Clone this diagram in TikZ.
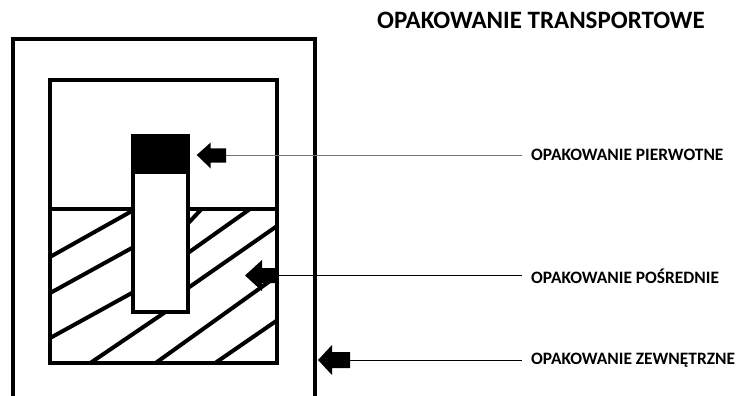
\documentclass[tikz,border=0pt]{standalone}
\usepackage{fontspec}
\setmainfont{Carlito}
\begin{document}
\begin{tikzpicture}[x=1pt,y=-1pt,
  boxline/.style={draw=black,line width=4pt,inner sep=0pt,outer sep=0pt,anchor=center},
  hatchline/.style={line width=4pt},
  blockarr/.style={fill=black},
  lead/.style={line width=0.9pt,draw=black},
  leadgray/.style={line width=1pt,draw=black!55},
  lbl/.style={font=\bfseries\fontsize{17.4}{19}\selectfont,anchor=base west,inner sep=0pt},
  ttl/.style={font=\bfseries\fontsize{25}{27}\selectfont,anchor=base west,inner sep=0pt}]
\useasboundingbox (0,0) rectangle (740,396);
\fill[white] (0,0) rectangle (740,396);
% outer box
\node[boxline,minimum width=302pt,minimum height=380pt] (outer) at (164,229.5) {};
% inner box
\node[boxline,fill=white,minimum width=227pt,minimum height=282.5pt] (inner) at (163.5,221.25) {};
% hatching in lower part
\begin{scope}
\clip (50,209) rectangle (277,362.5);
\draw[hatchline] (40,262.6) -- (140,206.5);
\draw[hatchline] (40,298.6) -- (140,243.5);
\draw[hatchline] (40,343.6) -- (140,288.5);
\draw[hatchline] (80,370) -- (175,305.5);
\draw[hatchline] (180,232) -- (210,200);
\draw[hatchline] (180,258.6) -- (262,200.5);
\draw[hatchline] (180,293.6) -- (290,217);
\draw[hatchline] (145,370.6) -- (290,266.7);
\draw[hatchline] (205,370) -- (290,311.5);
\end{scope}
\draw[line width=4pt] (inner.west |- 0,209) -- (inner.east |- 0,209);
% tall item
\node[boxline,fill=white,minimum width=55.5pt,minimum height=176pt] (item) at (160.25,224) {};
\fill[black] (130.5,134) rectangle (190,174);
\draw[line width=4pt] (item.north west) rectangle (item.south east);
% labels
\node[ttl] (title) at (377,29) {OPAKOWANIE TRANSPORTOWE};
\node[lbl] (l1) at (531,160.8) {OPAKOWANIE PIERWOTNE};
\node[lbl] (l2) at (531,283) {OPAKOWANIE POŚREDNIE};
\node[lbl] (l3) at (531,364) {OPAKOWANIE ZEWNĘTRZNE};
% arrow tips and lead ends
\coordinate (t1) at (196.7,155);
\coordinate (t2) at (245,275.5);
\coordinate (t3) at (318,360);
\coordinate (e1) at (226,155);
\coordinate (e2) at (inner.east |- t2);
\coordinate (e3) at (350,360);
% leads
\draw[leadgray] (e1) -- ([xshift=-9pt]l1.west |- e1);
\draw[lead] (e2) -- ([xshift=-9pt]l2.west |- e2);
\draw[lead] (e3) -- ([xshift=-9pt]l3.west |- e3);
% block arrows
\fill[blockarr] (t1) -- ++(14,-12.5) -- ++(0,6) -- ++(15.3,0) -- ++(0,14) -- ++(-15.3,0) -- ++(0,6) -- cycle;
\fill[blockarr] (t2) -- ++(17,-15.5) -- ++(0,8) -- ++(15,0) -- ++(0,15) -- ++(-15,0) -- ++(0,8) -- cycle;
\fill[blockarr] (t3) -- ++(14,-15) -- ++(0,7) -- ++(18,0) -- ++(0,16) -- ++(-18,0) -- ++(0,7) -- cycle;
\end{tikzpicture}
\end{document}
